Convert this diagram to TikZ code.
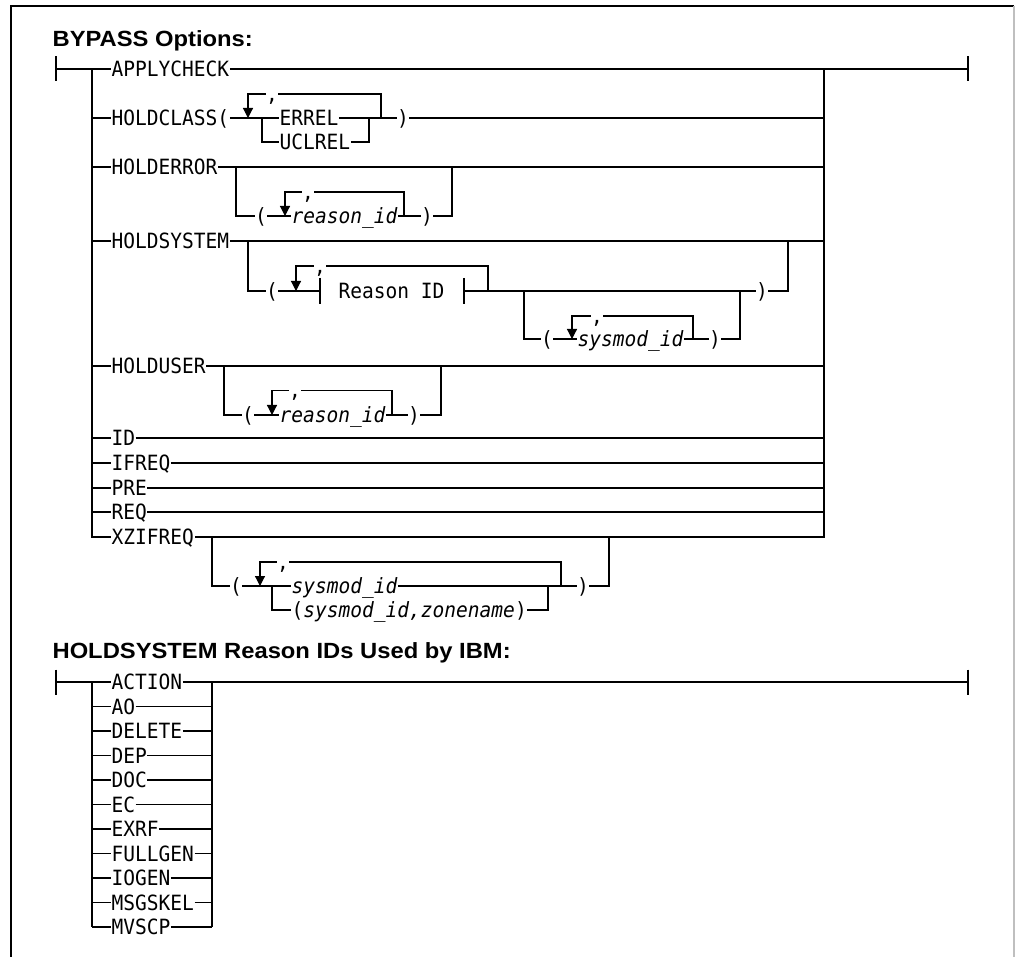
\documentclass[tikz,border=0pt]{standalone}
\usepackage{fontspec}
\newfontfamily\rrfont{DejaVu Sans Mono}[FakeStretch=0.93]
\newfontfamily\headfont{Liberation Sans}[FakeStretch=1.08]
\usetikzlibrary{arrows.meta}
\tikzset{
	kw/.style={
		font=\rrfont\fontsize{21}{22}\selectfont,
		anchor=west, inner sep=0pt, text height=15pt, text depth=0pt
	},
	kwi/.style={kw, font=\rrfont\itshape\fontsize{21}{22}\selectfont},
	sym/.style={kw, anchor=center},
	head/.style={
		font=\headfont\bfseries\fontsize{22}{24}\selectfont,
		anchor=base west, inner sep=0pt
	},
	bar/.style={line width=1.6pt},
	back/.style={-{Triangle[width=10pt,length=10pt]}}
}
\begin{document}
\begin{tikzpicture}[x=1pt, y=-1pt, line width=1.2pt]
	\useasboundingbox (0,0) rectangle (1015,957);
	\draw (11,957) -- (11,6) -- (1014,6);
	\draw[black!25] (1014,6) -- (1014,957);

	\node[head] (bypass) at (52,47) {BYPASS Options:};
	\coordinate (start1) at (56,69);
	\coordinate (left1) at (92,69);
	\coordinate (right1) at (824,69);
	\coordinate (end1) at (968,69);
	\draw[bar] ([yshift=12.5pt]start1) -- ([yshift=-12.5pt]start1);
	\draw[bar] ([yshift=12.5pt]end1) -- ([yshift=-12.5pt]end1);

	\node[kw] (applycheck) at (111,69) {APPLYCHECK};
	\node[kw] (holdclass) at (111,118) {HOLDCLASS(};
	\node[kw] (holderror) at (111,167) {HOLDERROR};
	\node[kw] (holdsystem) at (111,241) {HOLDSYSTEM};
	\node[kw] (holduser) at (111,366) {HOLDUSER};
	\node[kw] (id) at (111,438) {ID};
	\node[kw] (ifreq) at (111,463) {IFREQ};
	\node[kw] (pre) at (111,488) {PRE};
	\node[kw] (req) at (111,512) {REQ};
	\node[kw] (xzifreq) at (111,537) {XZIFREQ};

	\draw (start1) -- (applycheck.west) (applycheck.east) -- (end1);
	\draw (left1) -- (left1 |- xzifreq.west) -- (xzifreq.west);
	\draw (right1) -- (right1 |- xzifreq.east) -- (xzifreq.east);
	\foreach \opt in {holdclass,holderror,holdsystem,holduser,id,ifreq,pre,req}
		\draw (left1 |- \opt.west) -- (\opt.west);
	\foreach \opt in {holderror,holdsystem,holduser,id,ifreq,pre,req}
		\draw (\opt.east) -- (right1 |- \opt.east);

	\node[kw] (errel) at (279,118) {ERREL};
	\node[kw] (uclrel) at (279,142) {UCLREL};
	\node[sym] (hcsep) at (272,94) {,};
	\node[sym] (hcclose) at (403,118) {)};
	\coordinate (hcrep) at (248,118);
	\coordinate (hcjoin) at (262,118);
	\coordinate (hcmeet) at (369,118);
	\coordinate (hcloop) at (381,118);
	\draw (holdclass.east) -- (errel.west) (errel.east) -- (hcclose.west);
	\draw (hcclose.east) -- (right1 |- hcclose.east);
	\draw (hcjoin) -- (hcjoin |- uclrel.west) -- (uclrel.west);
	\draw (uclrel.east) -- (hcmeet |- uclrel.east) -- (hcmeet);
	\draw (hcloop) -- (hcloop |- hcsep.east) -- (hcsep.east);
	\draw[back] (hcsep.west) -- (hcsep.west -| hcrep) -- (hcrep);

	\coordinate (heon) at (236,167);
	\coordinate (heoff) at (452,167);
	\node[sym] (heopen) at (261,216) {(};
	\node[kwi] (hereason) at (291,216) {reason\_id};
	\node[sym] (heclose) at (427,216) {)};
	\node[sym] (hesep) at (308,192) {,};
	\coordinate (herep) at (285,216);
	\coordinate (heloop) at (404,216);
	\draw (heon) -- (heon |- heopen.west) -- (heopen.west);
	\draw (heopen.east) -- (hereason.west) (hereason.east) -- (heclose.west);
	\draw (heclose.east) -- (heoff |- heclose.east) -- (heoff);
	\draw (heloop) -- (heloop |- hesep.east) -- (hesep.east);
	\draw[back] (hesep.west) -- (hesep.west -| herep) -- (herep);

	\coordinate (hson) at (248,241);
	\coordinate (hsoff) at (788,241);
	\node[sym] (hsopen) at (272,291) {(};
	\coordinate (hsrep) at (296,291);
	\node[sym] (hssep) at (320,266) {,};
	\coordinate (fragin) at (320,291);
	\node[kw] (reasonid) at (338,291) {Reason ID};
	\coordinate (fragout) at (464,291);
	\coordinate (hsloop) at (488,291);
	\coordinate (hsion) at (524,291);
	\coordinate (hsioff) at (740,291);
	\node[sym] (hsclose) at (762,291) {)};
	\node[sym] (hsiopen) at (547,339) {(};
	\coordinate (hsirep) at (572,339);
	\node[sym] (hsisep) at (597,316) {,};
	\node[kwi] (hsisysmod) at (577,339) {sysmod\_id};
	\coordinate (hsiloop) at (693,339);
	\node[sym] (hsiclose) at (715,339) {)};
	\draw (hson) -- (hson |- hsopen.west) -- (hsopen.west);
	\draw (hsopen.east) -- (fragin);
	\draw[bar] ([yshift=13pt]fragin) -- ([yshift=-13pt]fragin)
		([yshift=13pt]fragout) -- ([yshift=-13pt]fragout);
	\draw (fragout) -- (hsclose.west);
	\draw (hsclose.east) -- (hsoff |- hsclose.east) -- (hsoff);
	\draw (hsloop) -- (hsloop |- hssep.east) -- (hssep.east);
	\draw[back] (hssep.west) -- (hssep.west -| hsrep) -- (hsrep);
	\draw (hsion) -- (hsion |- hsiopen.west) -- (hsiopen.west);
	\draw (hsiopen.east) -- (hsisysmod.west) (hsisysmod.east) -- (hsiclose.west);
	\draw (hsiclose.east) -- (hsioff |- hsiclose.east) -- (hsioff);
	\draw (hsiloop) -- (hsiloop |- hsisep.east) -- (hsisep.east);
	\draw[back] (hsisep.west) -- (hsisep.west -| hsirep) -- (hsirep);

	\coordinate (huon) at (224,366);
	\coordinate (huoff) at (441,366);
	\node[sym] (huopen) at (248,415) {(};
	\node[kwi] (hureason) at (279,415) {reason\_id};
	\node[sym] (huclose) at (414,415) {)};
	\node[sym] (husep) at (295,390.5) {,};
	\coordinate (hurep) at (272,415);
	\coordinate (huloop) at (392,415);
	\draw (huon) -- (huon |- huopen.west) -- (huopen.west);
	\draw (huopen.east) -- (hureason.west) (hureason.east) -- (huclose.west);
	\draw (huclose.east) -- (huoff |- huclose.east) -- (huoff);
	\draw (huloop) -- (huloop |- husep.east) -- (husep.east);
	\draw[back] (husep.west) -- (husep.west -| hurep) -- (hurep);

	\coordinate (xzon) at (212,537);
	\coordinate (xzoff) at (609,537);
	\node[sym] (xzopen) at (236,586) {(};
	\coordinate (xzrep) at (260,586);
	\coordinate (xzjoin) at (272,586);
	\node[sym] (xzsep) at (283,562) {,};
	\node[kwi] (xzsysmod) at (291,586) {sysmod\_id};
	\node[kw] (xzzone) at (291,610) {({\itshape sysmod\_id,zonename})};
	\coordinate (xzmeet) at (548,586);
	\coordinate (xzloop) at (561,586);
	\node[sym] (xzclose) at (583,586) {)};
	\draw (xzon) -- (xzon |- xzopen.west) -- (xzopen.west);
	\draw (xzopen.east) -- (xzsysmod.west) (xzsysmod.east) -- (xzclose.west);
	\draw (xzclose.east) -- (xzoff |- xzclose.east) -- (xzoff);
	\draw (xzjoin) -- (xzjoin |- xzzone.west) -- (xzzone.west);
	\draw (xzzone.east) -- (xzmeet |- xzzone.east) -- (xzmeet);
	\draw (xzloop) -- (xzloop |- xzsep.east) -- (xzsep.east);
	\draw[back] (xzsep.west) -- (xzsep.west -| xzrep) -- (xzrep);

	\node[head] (reasonids) at (52,658) {HOLDSYSTEM Reason IDs Used by IBM:};
	\coordinate (start2) at (56,682);
	\coordinate (left2) at (92,682);
	\coordinate (right2) at (212,682);
	\coordinate (end2) at (968,682);
	\draw[bar] ([yshift=12.5pt]start2) -- ([yshift=-12.5pt]start2);
	\draw[bar] ([yshift=12.5pt]end2) -- ([yshift=-12.5pt]end2);
	\foreach \rid [count=\i from 0] in {ACTION,AO,DELETE,DEP,DOC,EC,EXRF,FULLGEN,IOGEN,MSGSKEL,MVSCP} {
		\node[kw] (rid\i) at (111,{682+24.5*\i}) {\rid};
		\draw (left2 |- rid\i.west) -- (rid\i.west) (rid\i.east) -- (right2 |- rid\i.east);
	}
	\draw (start2) -- (left2) -- (left2 |- rid10.west);
	\draw (right2 |- rid10.east) -- (right2) -- (end2);
\end{tikzpicture}
\end{document}
